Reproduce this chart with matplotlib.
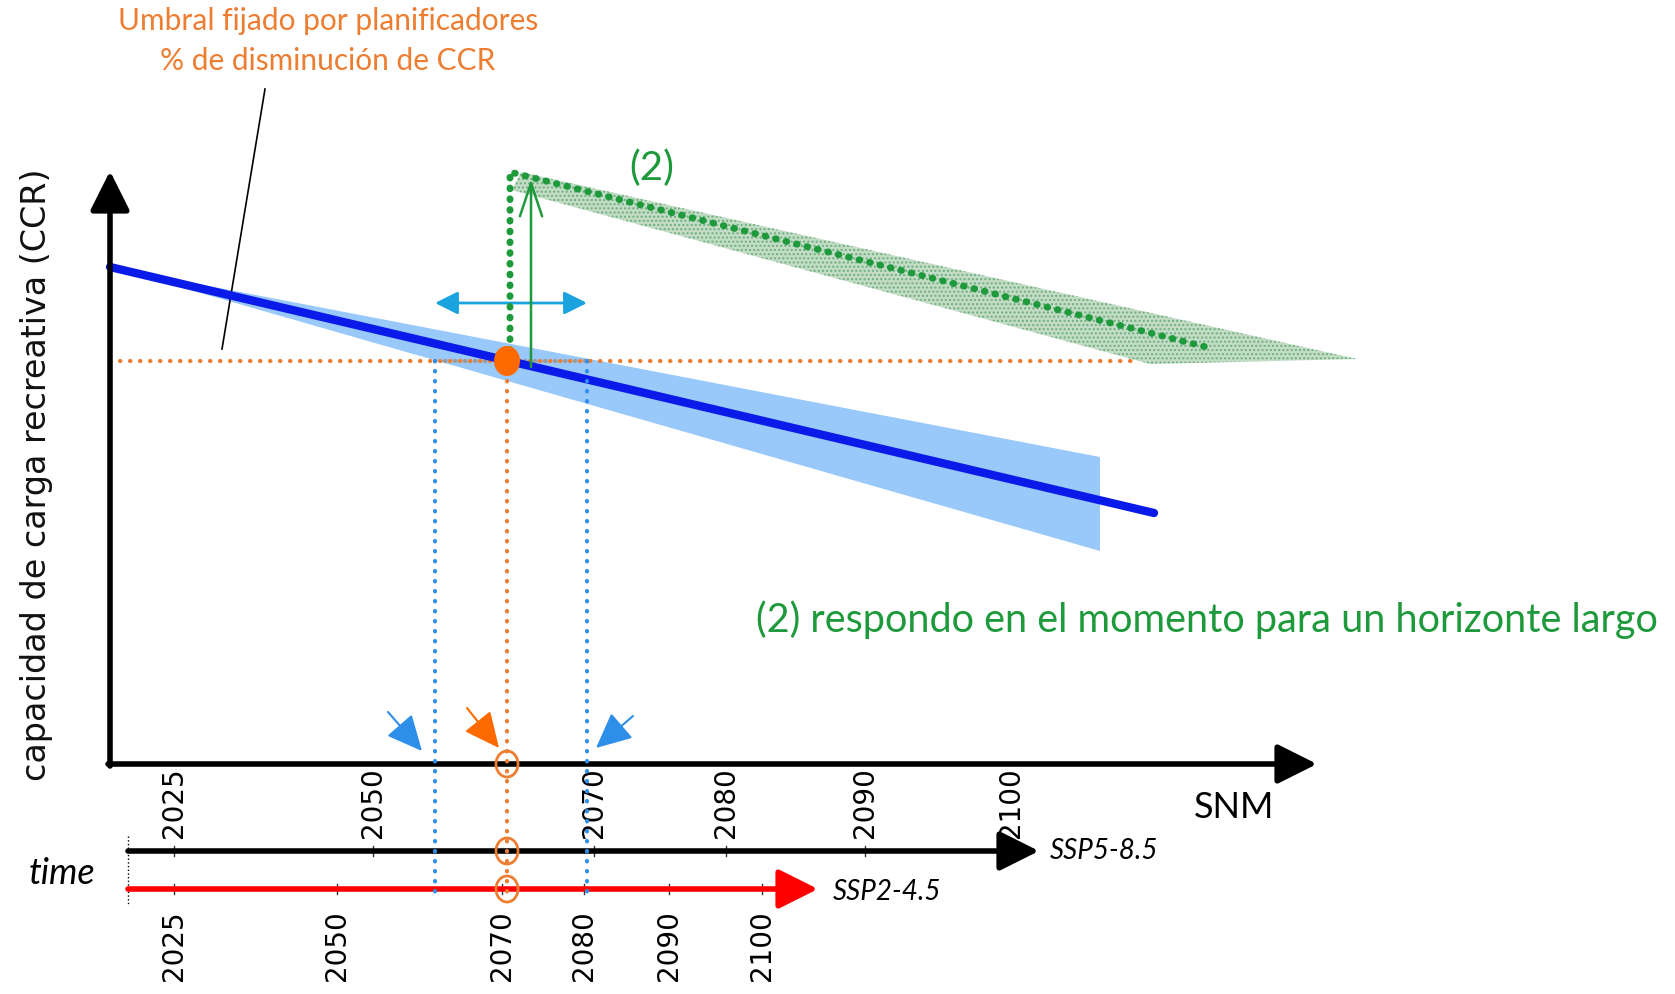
import matplotlib
matplotlib.use("Agg")
import matplotlib.pyplot as plt
from matplotlib.patches import Polygon, Ellipse

# schematic drawn in a pixel-like coordinate frame (x right, y down)
W, H = 1675, 994

# years on the two time axes and where they fall along the SNM scale
years = [2025, 2050, 2070, 2080, 2090, 2100]
ssp5_x = [174, 373, 594, 726, 865, 1011]
ssp2_x = [174, 337, 502, 584, 669, 762]

# CCR trend and its uncertainty band
ccr_x = [110, 1154]
ccr_y = [267, 513]
band_x = [110, 1100, 1100]
band_y = [267, 457, 551]

# threshold and crossing points
thr_y = 361
thr_x = [110, 1132]
cross_x = 507
range_x = [435, 587]

# response (2): raised curve
resp_x = [510, 510, 1210]
resp_y = [361, 172, 348]
resp_band_x = [521, 1357, 1150, 512]
resp_band_y = [172, 359, 364, 190]

ORANGE = "#ED7D31"
BLUE_DOT = "#2F8FEF"
GREEN = "#1E9A3C"

fig = plt.figure(figsize=(W / 100, H / 100), dpi=100)
ax = fig.add_axes([0, 0, 1, 1])
ax.set_xlim(0, W)
ax.set_ylim(H, 0)
ax.axis("off")

dots = dict(solid_capstyle="round", dash_capstyle="round")

# uncertainty band and trend
ax.add_patch(Polygon(list(zip(band_x, band_y)), closed=True, fc="#99C8FA", ec="none", zorder=1))
ax.plot(ccr_x, ccr_y, color="#0A1AE8", lw=6, solid_capstyle="round", zorder=3)

# green response band and line
ax.add_patch(Polygon(list(zip(resp_band_x, resp_band_y)), closed=True, fc="#c2dcc6",
                     ec="#6fae7c", lw=0, hatch="....", zorder=1))
ax.plot(resp_x, resp_y, color=GREEN, lw=5, ls=(0, (0.1, 1.45)), zorder=5, **dots)

# threshold line
ax.plot(thr_x, [thr_y, thr_y], color=ORANGE, lw=3, ls=(0, (0.1, 2.3)), zorder=2, **dots)
ax.plot(range_x, [thr_y, thr_y], color="#9a9a9a", lw=3, ls=(0, (0.1, 2.3)), zorder=2, **dots)

# verticals down to time axes
for xv in range_x:
    ax.plot([xv, xv], [thr_y, 899], color=BLUE_DOT, lw=3, ls=(0, (0.1, 2.3)), zorder=4, **dots)
ax.plot([cross_x, cross_x], [thr_y, 899], color=ORANGE, lw=3, ls=(0, (0.1, 2.3)), zorder=4, **dots)

ax.add_patch(Ellipse((cross_x, thr_y), 26, 30, fc="#FF6A00", ec="none", zorder=6))

big = dict(arrowstyle="-|>,head_length=1.1,head_width=0.55", lw=4, mutation_scale=22,
           shrinkA=0, shrinkB=0)

# axes
ax.annotate("", xy=(110, 171), xytext=(110, 766), arrowprops=dict(color="black", **big))
ax.annotate("", xy=(1317, 764), xytext=(108, 764), arrowprops=dict(color="black", **big))

# time axes
ax.annotate("", xy=(1039, 851), xytext=(128, 851), arrowprops=dict(color="black", **big))
ax.annotate("", xy=(818, 889), xytext=(128, 889), arrowprops=dict(color="#FF0000", **big))
ax.plot([128, 128], [836, 906], color="black", lw=1, ls=":")
for xv in ssp5_x[:-1]:
    ax.plot([xv, xv], [846, 856], color="#333333", lw=1)
for xv in ssp2_x:
    ax.plot([xv, xv], [884, 894], color="#333333", lw=1)

for y, x in zip(years, ssp5_x):
    ax.text(x, 838, str(y), rotation=90, ha="center", va="bottom", fontsize=20, color="black")
for y, x in zip(years, ssp2_x):
    ax.text(x, 910, str(y), rotation=90, ha="center", va="top", fontsize=20, color="black")

# hollow circles at crossing
for yc in [764, 851, 889]:
    ax.add_patch(Ellipse((cross_x, yc), 22, 26, fc="none", ec=ORANGE, lw=2, zorder=7))

# arrows pointing at the crossing years
arr = dict(arrowstyle="-|>,head_length=1.7,head_width=0.8", lw=1.5, mutation_scale=13,
           shrinkA=0, shrinkB=0)
ax.annotate("", xy=(422, 751), xytext=(388, 712), arrowprops=dict(color="#2E8FEA", **arr))
ax.annotate("", xy=(499, 748), xytext=(467, 708), arrowprops=dict(color="#FF6A00", **arr))
ax.annotate("", xy=(596, 748), xytext=(633, 716), arrowprops=dict(color="#2E8FEA", **arr))

# uncertainty range on threshold timing
ax.annotate("", xy=(587, 303), xytext=(435, 303),
            arrowprops=dict(arrowstyle="<|-|>,head_length=1.0,head_width=0.5", lw=2,
                            color="#1AA3DE", mutation_scale=14, shrinkA=0, shrinkB=0))

# green response arrow
ax.annotate("", xy=(531, 179), xytext=(531, 367),
            arrowprops=dict(arrowstyle="->,head_length=1.2,head_width=0.4", lw=1.8,
                            color=GREEN, mutation_scale=20, shrinkA=0, shrinkB=0))

# labels
ax.text(328, 21, "Umbral fijado por planificadores", ha="center", va="center",
        fontsize=21.5, color=ORANGE, family="Lato")
ax.text(328, 61, "% de disminución de CCR", ha="center", va="center",
        fontsize=21.5, color=ORANGE, family="Lato")
ax.plot([265, 222], [89, 349], color="black", lw=1.2)

ax.text(37, 475, "capacidad de carga recreativa (CCR)", rotation=90, ha="center", va="center",
        fontsize=24, color="#111111")
ax.text(1234, 808, "SNM", ha="center", va="center", fontsize=26, color="black", family="Lato")
ax.text(652, 168, "(2)", ha="center", va="center", fontsize=29, color=GREEN, family="Lato")
ax.text(1207, 620, "(2) respondo en el momento para un horizonte largo", ha="center", va="center",
        fontsize=28.5, color=GREEN, family="Lato")
ax.text(62, 874, "time", ha="center", va="center", fontsize=26, style="italic", family="Lato")
ax.text(1050, 851, "SSP5-8.5", ha="left", va="center", fontsize=20, style="italic", family="Lato")
ax.text(833, 892, "SSP2-4.5", ha="left", va="center", fontsize=20, style="italic", family="Lato")

fig.savefig("out.png", dpi=100)
